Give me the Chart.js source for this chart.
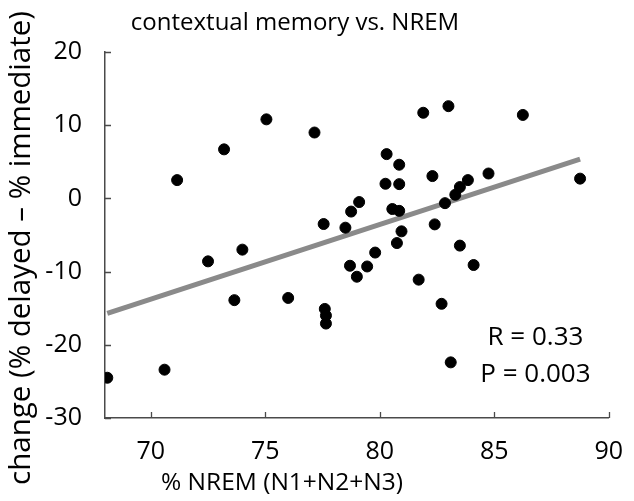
<!DOCTYPE html>
<html>
<head>
<meta charset="utf-8">
<script src="https://cdn.jsdelivr.net/npm/chart.js@4/dist/chart.umd.min.js"></script>
<style>
  body { margin: 0; background: #fff; }
  #wrap { width: 634px; height: 501px; }
</style>
</head>
<body>
<div id="wrap"><canvas id="nremChart" width="634" height="501"></canvas></div>
<script>
// % NREM vs change in contextual memory (one point per subject)
const nremPct = [68.1, 70.6, 71.15, 72.5, 73.2, 73.65, 74.0, 75.05, 76.0, 77.15,
  77.55, 77.6, 77.65, 77.65, 78.5, 78.7, 78.75, 79.0, 79.1, 79.45,
  79.8, 80.3, 80.25, 80.55, 80.75, 80.85, 80.85, 80.85, 80.95, 81.7,
  81.9, 82.3, 82.4, 82.7, 82.85, 83.0, 83.1, 83.3, 83.5, 83.5,
  83.85, 84.1, 84.75, 86.25, 88.75];
const memChange = [-24.5, -23.4, 2.5, -8.6, 6.7, -13.9, -7.0, 10.8, -13.6, 9.0,
  -3.5, -15.1, -16.0, -17.1, -4.0, -9.2, -1.8, -10.7, -0.5, -9.3,
  -7.4, 6.05, 2.0, -1.45, -6.1, 4.6, 1.95, -1.7, -4.5, -11.1,
  11.7, 3.05, -3.55, -14.4, -0.65, 12.6, -22.4, 0.5, 1.55, -6.45,
  2.5, -9.1, 3.4, 11.4, 2.7];

// regression line end points
const fitX = [68.1, 88.75];
const fitY = [-15.7, 5.35];

const xTicks = [70, 75, 80, 85, 90];
const yTicks = [-30, -20, -10, 0, 10, 20];
const statsText = ['R = 0.33', 'P = 0.003'];

const FONT = 'Open Sans';
const AXIS_COLOR = '#4a4a4a';

// ticks point inward; title, axis names and stats text drawn by hand
const extrasPlugin = {
  id: 'extras',
  afterDraw(chart) {
    const ctx = chart.ctx;
    const xs = chart.scales.x, ys = chart.scales.y;
    const area = chart.chartArea;
    ctx.save();
    ctx.strokeStyle = AXIS_COLOR;
    ctx.lineWidth = 1.3;
    ctx.beginPath();
    xTicks.forEach(v => {
      const px = Math.round(xs.getPixelForValue(v)) + 0.5;
      ctx.moveTo(px, area.bottom);
      ctx.lineTo(px, area.bottom - 6);
    });
    yTicks.forEach(v => {
      const py = Math.round(ys.getPixelForValue(v)) + 0.5;
      ctx.moveTo(area.left, py);
      ctx.lineTo(area.left + 6, py);
    });
    ctx.stroke();

    ctx.fillStyle = '#000';
    ctx.textAlign = 'center';
    ctx.textBaseline = 'middle';
    ctx.font = '24px "' + FONT + '"';
    ctx.fillText('contextual memory vs. NREM', 295, 23);

    ctx.font = '24.5px "' + FONT + '"';
    ctx.fillText('% NREM (N1+N2+N3)', 282, 483);

    ctx.font = '26px "' + FONT + '"';
    const sx = xs.getPixelForValue(86.8);
    ctx.fillText(statsText[0], sx, ys.getPixelForValue(-19.05));
    ctx.fillText(statsText[1], sx, ys.getPixelForValue(-24.1));

    ctx.save();
    ctx.translate(22, 248);
    ctx.rotate(-Math.PI / 2);
    ctx.font = '29.5px "' + FONT + '"';
    ctx.fillText('change (% delayed \u2013 % immediate)', 0, 0);
    ctx.restore();
    ctx.restore();
  }
};

const config = {
  type: 'scatter',
  data: {
    datasets: [
      {
        type: 'line',
        label: 'fit',
        data: fitX.map((x, i) => ({x: x, y: fitY[i]})),
        borderColor: '#8a8a8a',
        borderWidth: 5,
        pointRadius: 0,
        fill: false,
        order: 2,
      },
      {
        label: 'subjects',
        data: nremPct.map((x, i) => ({x: x, y: memChange[i]})),
        backgroundColor: '#000',
        borderColor: '#000',
        pointRadius: 5.5,
        pointHoverRadius: 5.5,
        order: 1,
      },
    ]
  },
  options: {
    responsive: false,
    animation: false,
    devicePixelRatio: 1,
    layout: {
      padding: {top: 52, right: 18, left: 0, bottom: 0},
    },
    plugins: {
      legend: {display: false},
      title: {display: false},
      tooltip: {enabled: false},
    },
    scales: {
      x: {
        type: 'linear',
        min: 68,
        max: 90,
        afterBuildTicks: (scale) => { scale.ticks = xTicks.map(v => ({value: v})); },
        afterFit: (scale) => { scale.height = 83; },
        grid: {display: false},
        border: {display: true, color: AXIS_COLOR, width: 1.5},
        ticks: {
          color: '#000',
          font: {family: FONT, size: 25},
          padding: 11,
          maxRotation: 0,
        },
      },
      y: {
        type: 'linear',
        min: -30,
        max: 20,
        afterBuildTicks: (scale) => { scale.ticks = yTicks.map(v => ({value: v})); },
        afterFit: (scale) => { scale.width = 105; },
        grid: {display: false},
        border: {display: true, color: AXIS_COLOR, width: 1.5},
        ticks: {
          color: '#000',
          font: {family: FONT, size: 25},
          padding: 15,
        },
      },
    },
  },
  plugins: [extrasPlugin],
};

new Chart(document.getElementById('nremChart'), config);
</script>
</body>
</html>
